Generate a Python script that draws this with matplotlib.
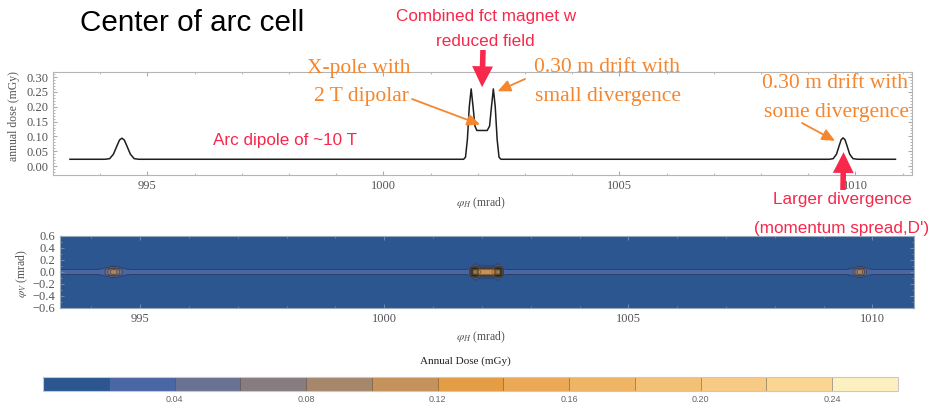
import matplotlib.pyplot as plt
import numpy as np
from matplotlib import font_manager

# horizontal angle (mrad) and annual dose (mGy)
phi_h = [993.36, 994.10, 994.20, 994.28, 994.36, 994.41, 994.46, 994.51, 994.56, 994.64,
         994.72, 994.82, 1001.70, 1001.74, 1001.78, 1001.82, 1001.86, 1001.90, 1001.94,
         1001.98, 1002.20, 1002.25, 1002.29, 1002.33, 1002.37, 1002.41, 1002.45, 1002.49,
         1009.45, 1009.53, 1009.60, 1009.66, 1009.70, 1009.74, 1009.78, 1009.82, 1009.88,
         1009.95, 1010.05, 1010.85]
dose = [0.023, 0.023, 0.025, 0.040, 0.070, 0.088, 0.094, 0.088, 0.070, 0.040,
        0.025, 0.023, 0.023, 0.030, 0.090, 0.200, 0.260, 0.200, 0.135,
        0.120, 0.120, 0.135, 0.200, 0.260, 0.200, 0.090, 0.030, 0.023,
        0.023, 0.025, 0.040, 0.070, 0.089, 0.095, 0.089, 0.070, 0.040,
        0.025, 0.023, 0.023]

# vertical angle (mrad) and relative beam profile across it
phi_v = [-0.6, -0.25, -0.15, -0.1, -0.07, -0.045, -0.02, 0.0, 0.02, 0.045, 0.07, 0.1, 0.15, 0.25, 0.6]
v_weight = [0, 0, 0.04, 0.15, 0.4, 0.85, 0.97, 1.0, 0.97, 0.85, 0.4, 0.15, 0.04, 0, 0]

dose_levels = [0.00, 0.02, 0.04, 0.06, 0.08, 0.10, 0.12, 0.14, 0.16, 0.18, 0.20, 0.22, 0.24, 0.26]
dose_colors = ['#2b5690', '#4a67a5', '#6a7293', '#877c7f', '#a6876c', '#c4925a', '#e59d45',
               '#eba955', '#f0b465', '#f4c076', '#f8cb85', '#fbd693', '#fdf0c0']

top_xticks = [995, 1000, 1005, 1010]
top_yticks = [0.00, 0.05, 0.10, 0.15, 0.20, 0.25, 0.30]
top_ylabels = ['0.00', '0.05', '0.10', '0.15', '0.20', '0.25', '0.30']
bot_yticks = [-0.6, -0.4, -0.2, 0.0, 0.2, 0.4, 0.6]
bot_ylabels = ['\u22120.6', '\u22120.4', '\u22120.2', '0.0', '0.2', '0.4', '0.6']
cbar_ticks = [0.04, 0.08, 0.12, 0.16, 0.20, 0.24]
cbar_labels = ['0.04', '0.08', '0.12', '0.16', '0.20', '0.24']

W, H = 933, 408


def fxy(x, y):
    # pixel position (from top-left) -> figure fraction
    return x / W, 1 - y / H


names = {f.name for f in font_manager.fontManager.ttflist}
if 'Liberation Sans Narrow' in names:
    sans, k = 'Liberation Sans Narrow', 1.0
else:
    sans, k = 'Liberation Sans', 0.82

plt.rcParams['font.family'] = 'serif'
plt.rcParams['font.serif'] = ['Liberation Serif', 'DejaVu Serif']
plt.rcParams['mathtext.fontset'] = 'stix'

red = '#f7284b'
orange = '#f5862e'
tick_col = '#555555'

fig = plt.figure(figsize=(W / 100, H / 100), dpi=100)

# upper panel: dose along phi_H
ax1 = fig.add_axes([53 / W, 1 - 175 / H, 859 / W, 103 / H])
ax1.plot(phi_h, dose, color='#1e1e1e', lw=1.1)
ax1.set_xlim(993.0, 1011.2)
ax1.set_ylim(-0.03, 0.317)
ax1.set_xticks(top_xticks)
ax1.set_xticks(np.arange(993, 1012), minor=True)
ax1.set_yticks(top_yticks)
ax1.set_yticklabels(top_ylabels)
ax1.set_yticks(np.arange(-0.03, 0.32, 0.01), minor=True)
ax1.tick_params(which='both', direction='in', top=True, right=True, color='#aaaaaa',
                labelcolor=tick_col, labelsize=9)
ax1.tick_params(which='major', length=3)
ax1.tick_params(which='minor', length=1.5)
for s in ax1.spines.values():
    s.set_color('#b5b5b5')
    s.set_linewidth(0.8)

# lower panel: dose map phi_H x phi_V
Z = np.outer(v_weight, dose)
ax2 = fig.add_axes([60 / W, 1 - 308 / H, 854 / W, 72 / H])
cf = ax2.contourf(phi_h, phi_v, Z, levels=dose_levels, colors=dose_colors)
ax2.contour(phi_h, phi_v, Z, levels=dose_levels[1:], colors='k', linewidths=0.6, alpha=0.45)
ax2.set_xlim(phi_h[0], phi_h[-1])
ax2.set_ylim(-0.6, 0.6)
ax2.set_xticks(top_xticks)
ax2.set_xticks(np.arange(994, 1011), minor=True)
ax2.set_yticks(bot_yticks)
ax2.set_yticklabels(bot_ylabels)
ax2.set_yticks(np.arange(-0.6, 0.61, 0.1), minor=True)
ax2.tick_params(which='both', direction='in', top=True, right=True, color='#6f86a8',
                labelcolor=tick_col, labelsize=9)
ax2.tick_params(which='major', length=3)
ax2.tick_params(which='minor', length=1.5)
for s in ax2.spines.values():
    s.set_color('#9aa8bb')
    s.set_linewidth(0.8)

# colour bar
cax = fig.add_axes([43 / W, 1 - 391 / H, 855 / W, 14 / H])
cb = fig.colorbar(cf, cax=cax, orientation='horizontal', drawedges=True)
cb.set_ticks(cbar_ticks)
cb.set_ticklabels(cbar_labels)
cb.outline.set_edgecolor('#c8c8c8')
cb.outline.set_linewidth(0.8)
cb.dividers.set_color('#3a3a3a')
cb.dividers.set_linewidth(0.6)
cb.dividers.set_alpha(0.5)
cax.tick_params(length=0, labelsize=6.5, labelcolor='#666666', pad=3)
for lbl in cax.get_xticklabels():
    lbl.set_fontfamily(sans)

# axis labels
fig.text(*fxy(14, 116), 'annual dose (mGy)', rotation=90, ha='center', va='center',
         fontsize=8.5, color=tick_col)
fig.text(*fxy(481, 203), r'$\varphi_H$ (mrad)', ha='center', va='center', fontsize=8.5, color=tick_col)
fig.text(*fxy(22, 273), r'$\varphi_V$ (mrad)', rotation=90, ha='center', va='center',
         fontsize=8.5, color=tick_col)
fig.text(*fxy(481, 337), r'$\varphi_H$ (mrad)', ha='center', va='center', fontsize=8.5, color=tick_col)
fig.text(*fxy(465, 361), 'Annual Dose (mGy)', ha='center', va='center', fontsize=8, color='#222222')

# title and notes
fig.text(*fxy(80, 23), 'Center of arc cell', ha='left', va='center', fontsize=26 * k,
         family=sans, color='black')
fig.text(*fxy(486, 16), 'Combined fct magnet w', ha='center', va='center', fontsize=15 * k,
         family=sans, color=red)
fig.text(*fxy(485, 42), 'reduced field', ha='center', va='center', fontsize=15 * k,
         family=sans, color=red)
fig.text(*fxy(285, 141), 'Arc dipole of ~10 T', ha='center', va='center', fontsize=15 * k,
         family=sans, color=red)
fig.text(*fxy(842, 199), 'Larger divergence', ha='center', va='center', fontsize=15 * k,
         family=sans, color=red)
fig.text(*fxy(842, 228), "(momentum spread,D')", ha='center', va='center', fontsize=15 * k,
         family=sans, color=red)

fig.text(*fxy(359, 68), 'X-pole with', ha='center', va='center', fontsize=15.5, color=orange)
fig.text(*fxy(361, 97), '2 T dipolar', ha='center', va='center', fontsize=15.5, color=orange)
fig.text(*fxy(607, 68), '0.30 m drift with', ha='center', va='center', fontsize=15.5, color=orange)
fig.text(*fxy(608, 97), 'small divergence', ha='center', va='center', fontsize=15.5, color=orange)
fig.text(*fxy(835, 83), '0.30 m drift with', ha='center', va='center', fontsize=15.5, color=orange)
fig.text(*fxy(836, 112), 'some divergence', ha='center', va='center', fontsize=15.5, color=orange)

# arrows
thin = dict(arrowstyle='-|>,head_length=0.55,head_width=0.25', color=orange, lw=1.3,
            mutation_scale=14, shrinkA=0, shrinkB=0)
fat = dict(arrowstyle='simple,head_length=0.75,head_width=0.75,tail_width=0.2', color=red,
           lw=0, mutation_scale=20, shrinkA=0, shrinkB=0)
ax1.annotate('', xy=(1002.05, 0.14), xytext=fxy(412, 99), textcoords='figure fraction',
             arrowprops=thin, annotation_clip=False)
ax1.annotate('', xy=(1002.42, 0.252), xytext=fxy(525, 79), textcoords='figure fraction',
             arrowprops=thin, annotation_clip=False)
ax1.annotate('', xy=(1009.57, 0.085), xytext=fxy(802, 123), textcoords='figure fraction',
             arrowprops=thin, annotation_clip=False)
ax1.annotate('', xy=(1002.09, 0.266), xytext=fxy(483, 50), textcoords='figure fraction',
             arrowprops=fat, annotation_clip=False)
ax1.annotate('', xy=(1009.75, 0.047), xytext=fxy(843, 190), textcoords='figure fraction',
             arrowprops=fat, annotation_clip=False)

fig.savefig('out.png', dpi=100)
